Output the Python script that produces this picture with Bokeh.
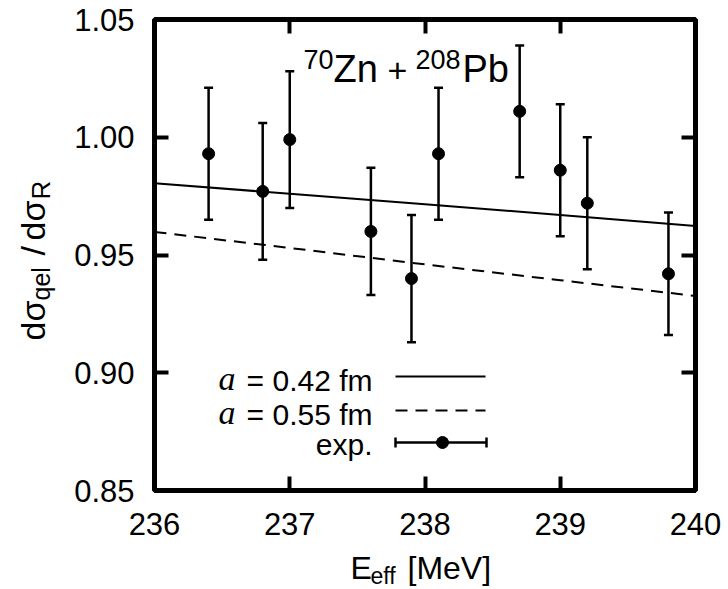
import math
from bokeh.plotting import figure
from bokeh.layouts import row, column
from bokeh.models import (Range1d, LinearAxis, Label, FixedTicker, Whisker,
                          ColumnDataSource, TeeHead, PrintfTickFormatter)
from bokeh.core.properties import value
from bokeh.embed import file_html
from bokeh.resources import INLINE

# ---------------- data ----------------
energy = [236.4, 236.8, 237.0, 237.6, 237.9, 238.1, 238.7, 239.0, 239.2, 239.8]
ratio = [0.993, 0.977, 0.999, 0.960, 0.940, 0.993, 1.011, 0.986, 0.972, 0.942]
error = [0.028, 0.029, 0.029, 0.027, 0.027, 0.028, 0.028, 0.028, 0.028, 0.026]

calc_energy = [236.0, 237.0, 238.0, 239.0, 240.0]
calc_a042 = [0.9805, 0.9760, 0.9715, 0.9670, 0.9623]
calc_a055 = [0.9598, 0.9530, 0.9460, 0.9393, 0.9326]

x_ticks = [236, 237, 238, 239, 240]
y_ticks = [0.85, 0.90, 0.95, 1.00, 1.05]

legend_labels = ["= 0.42 fm", "= 0.55 fm", "exp."]
title_parts = ["70", "Zn", "+", "208", "Pb"]

# ---------------- layout (page pixels) ----------------
W, H = 728, 589
YLAB_W = 60          # strip left of the main figure holding the y label
MAIN_H = 540         # main figure height; x label strip below it
X_MIN, X_MAX = 236.0, 240.0
Y_MIN, Y_MAX = 0.85, 1.05
FRAME_L, FRAME_T = 154, 19
FW, FH = 541, 471
FRAME_R, FRAME_B = FRAME_L + FW, FRAME_T + FH
FONT = "Liberation Sans"
MID = 0.35           # baseline lies this many ems below the text middle


def dx(px):
    """page pixel x -> data x of the main plot"""
    return X_MIN + (px - FRAME_L) * (X_MAX - X_MIN) / FW


def dy(py):
    """page pixel y -> data y of the main plot"""
    return Y_MAX - (py - FRAME_T) * (Y_MAX - Y_MIN) / FH


p = figure(frame_width=FW, frame_height=FH,
           x_range=Range1d(X_MIN, X_MAX), y_range=Range1d(Y_MIN, Y_MAX),
           output_backend="svg", toolbar_location=None,
           min_border_left=FRAME_L - YLAB_W,
           min_border_right=W - FRAME_R,
           min_border_top=FRAME_T,
           min_border_bottom=MAIN_H - FRAME_B,
           x_axis_location=None, y_axis_location=None)
p.grid.visible = False
p.background_fill_color = "white"
p.border_fill_color = "white"
p.outline_line_color = "black"
p.outline_line_width = 5


def make_axis(ticks, fmt, labels=True):
    ax = LinearAxis(ticker=FixedTicker(ticks=ticks),
                    formatter=PrintfTickFormatter(format=fmt))
    ax.axis_line_color = None
    ax.major_tick_in = 14
    ax.major_tick_out = 0
    ax.minor_tick_in = 0
    ax.minor_tick_out = 0
    ax.major_tick_line_width = 4
    ax.major_tick_line_color = "black"
    ax.major_label_text_font = FONT
    ax.major_label_text_font_size = "31px"
    ax.major_label_text_color = "black"
    if not labels:
        ax.major_label_overrides = {t: "" for t in ticks}
        ax.major_label_standoff = 0
    return ax


xb = make_axis(x_ticks, "%d")
xb.major_label_standoff = 22
p.add_layout(xb, "below")
yl = make_axis(y_ticks, "%.2f")
yl.major_label_standoff = 20
p.add_layout(yl, "left")
p.add_layout(make_axis(x_ticks, "%d", labels=False), "above")
p.add_layout(make_axis(y_ticks, "%.2f", labels=False), "right")

# ---------------- curves ----------------
p.line(calc_energy, calc_a042, line_color="black", line_width=2)
p.line(calc_energy, calc_a055, line_color="black", line_width=2,
       line_dash="12 8")

# ---------------- experimental points ----------------
src = ColumnDataSource(dict(
    x=energy, y=ratio,
    lo=[r - e for r, e in zip(ratio, error)],
    hi=[r + e for r, e in zip(ratio, error)]))
wh = Whisker(source=src, base="x", lower="lo", upper="hi",
             line_color="black", line_width=2.5,
             upper_head=TeeHead(size=9, line_width=2.5, line_color="black"),
             lower_head=TeeHead(size=9, line_width=2.5, line_color="black"))
p.add_layout(wh)
p.scatter("x", "y", source=src, size=12, color="black")


# ---------------- texts inside the frame ----------------
def add_label(txt, px, base_y, size, align="left", font=FONT, style="normal"):
    """px: left/right edge, base_y: page y of the baseline, size in px"""
    p.add_layout(Label(x=dx(px), y=dy(base_y - MID * size), text=txt,
                       text_font=font, text_font_size=f"{size}px",
                       text_font_style=style, text_color="black",
                       text_align=align, text_baseline="middle"))


# title
add_label(title_parts[0], 303, 68, 27)
add_label(title_parts[1], 333, 82, 38)
add_label(title_parts[2], 387, 82, 34)
add_label(title_parts[3], 415, 68, 27)
add_label(title_parts[4], 462, 82, 38)

# legend
rows = [376, 410, 442]
for i in range(2):
    add_label("a", 235, rows[i] + 14, 34, align="right",
              font="Liberation Serif", style="italic")
    add_label(legend_labels[i], 372, rows[i] + 14, 30, align="right")
add_label(legend_labels[2], 372, rows[2] + 12, 30, align="right")

p.line([dx(395), dx(485)], [dy(rows[0])] * 2, line_color="black", line_width=2)
p.line([dx(395), dx(485)], [dy(rows[1])] * 2, line_color="black", line_width=2,
       line_dash="12 8")
p.line([dx(395), dx(486)], [dy(rows[2])] * 2, line_color="black", line_width=2.5)
p.segment([dx(395), dx(486)], [dy(rows[2] - 5)] * 2,
          [dx(395), dx(486)], [dy(rows[2] + 5)] * 2,
          line_color="black", line_width=2.5)
p.scatter([dx(442)], [dy(rows[2])], size=12, color="black")


# ---------------- axis-title strips ----------------
def strip(x0, x1, y0, y1, fx0, fx1, fy0, fy1):
    """canvas spans page x0..x1, y0..y1; its frame spans fx0..fx1, fy0..fy1.
    Data coordinates are page pixels (y measured upwards as H - y)."""
    f = figure(frame_width=fx1 - fx0, frame_height=fy1 - fy0,
               x_range=Range1d(fx0, fx1), y_range=Range1d(H - fy1, H - fy0),
               output_backend="svg", toolbar_location=None,
               min_border_left=fx0 - x0, min_border_right=x1 - fx1,
               min_border_top=fy0 - y0, min_border_bottom=y1 - fy1,
               x_axis_location=None, y_axis_location=None)
    f.grid.visible = False
    f.outline_line_color = None
    f.background_fill_color = "white"
    f.border_fill_color = "white"
    return f


def put(f, txt, px, py, size, rotated=False):
    """(px, py): page pixel of the baseline start"""
    if rotated:
        x, y, ang = px - MID * size, py, math.pi / 2
    else:
        x, y, ang = px, py - MID * size, 0.0
    f.text(x=[x], y=[H - y], text=[txt], text_font=value(FONT),
           text_font_size=value(f"{size}px"), text_color="black",
           text_align="left", text_baseline="middle", angle=ang)


ylab = strip(0, YLAB_W, 0, H, 0, YLAB_W, FRAME_T, FRAME_B)
put(ylab, "dσ", 44, 340, 34, True)
put(ylab, "qel", 49, 300, 25, True)
put(ylab, "/", 44, 255, 34, True)
put(ylab, "dσ", 44, 240, 34, True)
put(ylab, "R", 50, 199, 26, True)

xlab = strip(YLAB_W, W, MAIN_H, H, FRAME_L, FRAME_R, MAIN_H, H)
put(xlab, "E", 350, 579, 32)
put(xlab, "eff", 370, 584, 23)
put(xlab, "[MeV]", 407, 579, 32)

layout = row(ylab, column(p, xlab, spacing=0), spacing=0)
open("out.html", "w").write(file_html(layout, INLINE))
